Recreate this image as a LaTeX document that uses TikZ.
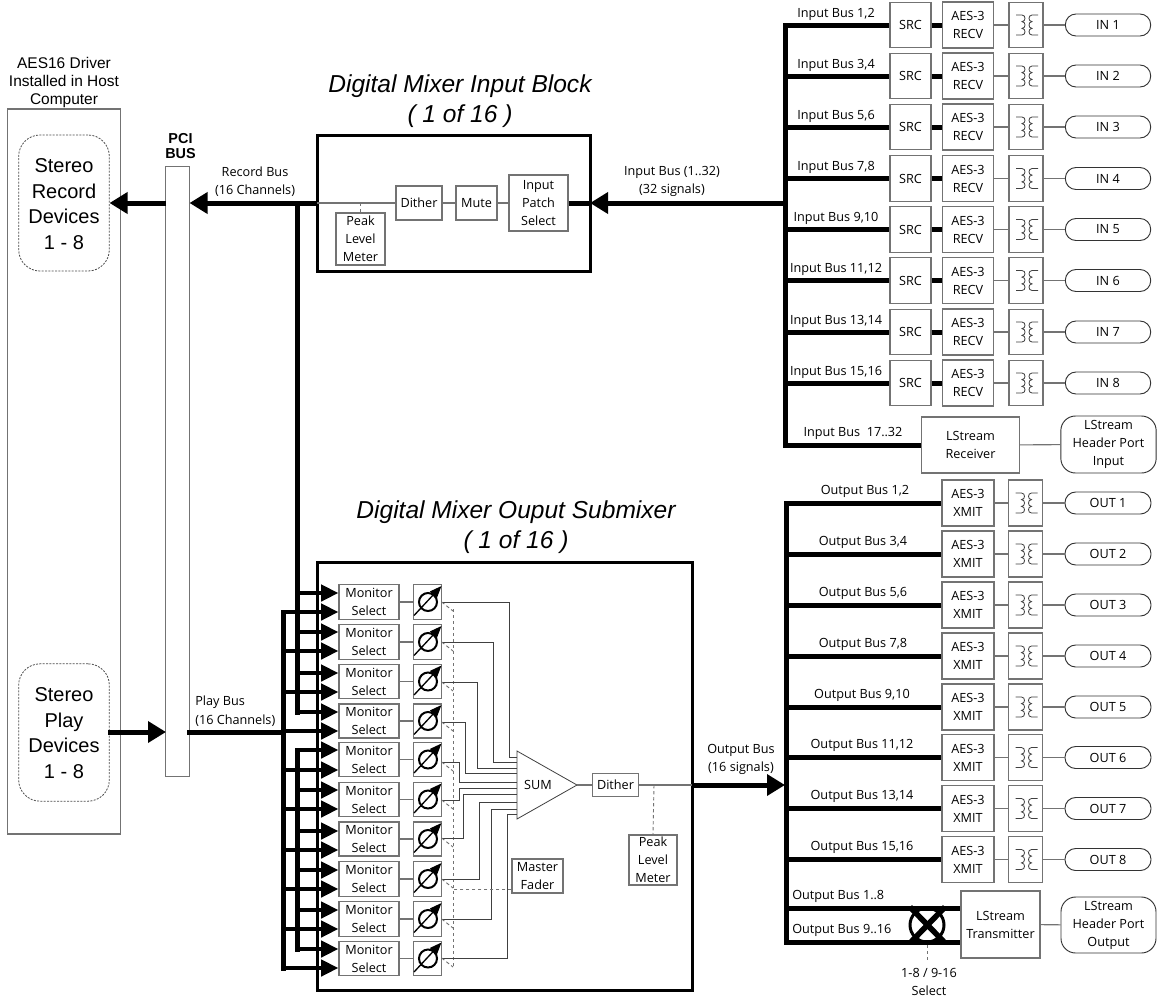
\documentclass[tikz,border=0pt]{standalone}
\usepackage{fontspec}
\setmainfont{Open Sans}
\newfontfamily\arialf{Liberation Sans}
\usetikzlibrary{arrows.meta}
\definecolor{thinc}{gray}{0.45}
\newcommand{\lbl}{\fontsize{9.5pt}{13.5pt}\selectfont}
\tikzset{
  box/.style={draw=thinc,line width=0.8pt,fill=white,inner sep=0pt,align=center,font=\lbl},
  wire/.style={draw=thinc,line width=0.8pt},
  cwire/.style={draw=black!75,line width=0.6pt},
  ctrl/.style={draw=thinc,line width=0.7pt,dash pattern=on 2.5pt off 2pt},
  bus/.style={draw=black,line width=3.75pt},
  bigarrow/.style={bus,-{Triangle[length=13.5pt,width=15.5pt]}},
  smallarrow/.style={bus,line width=3.4pt,-{Triangle[length=13pt,width=12pt]}},
  frame/.style={draw=black,line width=2.25pt},
  txt/.style={inner sep=0pt,align=center,font=\lbl},
  devbox/.style={draw=black!70,line width=0.6pt,dash pattern=on 1.5pt off 1pt,rounded corners=16pt},
  devtxt/.style={inner sep=0pt,align=center,font={\arialf\fontsize{15pt}{19.2pt}\selectfont}},
  title/.style={inner sep=0pt,align=center,font={\arialf\itshape\fontsize{18.4pt}{22.5pt}\selectfont}},
  pill/.style={draw=black!80,line width=0.7pt,fill=white,rounded corners=8pt,inner sep=0pt,align=center,font=\lbl},
  port/.style={draw=black!80,line width=0.7pt,fill=white,rounded corners=11pt,inner sep=0pt,align=center,font=\lbl}
}
\newcommand{\xfmr}[2]{%
  \begin{scope}[shift={(#1,#2)}]
    \draw[cwire] (-10,-10) -- (-4,-10)
      .. controls (0,-10) and (0,-3.4) .. (-4,-3.4)
      .. controls (0,-3.4) and (0,3.4) .. (-4,3.4)
      .. controls (0,3.4) and (0,10) .. (-4,10) -- (-10,10);
    \draw[cwire] (12,-10) -- (6,-10)
      .. controls (2,-10) and (2,-3.4) .. (6,-3.4)
      .. controls (2,-3.4) and (2,3.4) .. (6,3.4)
      .. controls (2,3.4) and (2,10) .. (6,10) -- (12,10);
  \end{scope}}
\begin{document}
\begin{tikzpicture}[x=0.75pt,y=-0.75pt]
\useasboundingbox (0,0) rectangle (1157,997);
\fill[white] (0,0) rectangle (1157,997);

% host box
\node[box,minimum width=84.75pt,minimum height=543.75pt] (host) at (64,471.5) {};
\node[txt,font={\arialf\fontsize{11.6pt}{13.5pt}\selectfont}] (hosttxt) at (64,82) {AES16 Driver\\Installed in Host\\Computer};
\node[devbox,minimum width=68pt,minimum height=102pt,inner sep=0pt] (rec) at (64,203) {};
\node[devtxt] (rectxt) at (64,204) {Stereo\\Record\\Devices\\1 - 8};
\node[devbox,minimum width=68pt,minimum height=103pt,inner sep=0pt] (ply) at (64,732.5) {};
\node[devtxt] (plytxt) at (64,733) {Stereo\\Play\\Devices\\1 - 8};

% PCI
\node[box,minimum width=17.5pt,minimum height=458pt] (pci) at (177.5,471.5) {};
\node[txt,font={\arialf\bfseries\fontsize{10.8pt}{11.6pt}\selectfont}] (pcitxt) at (180.5,146) {PCI\\BUS};
\coordinate (recw) at (109.5,203);
\coordinate (recpci) at (166,203);
\coordinate (recpcie) at (189.5,203);
\coordinate (plyin) at (166,732);
\coordinate (plye) at (108,732);
\coordinate (plyout) at (187,732);
\draw[bigarrow] (recpci) -- (recw);
\draw[bigarrow] (plye) -- (plyin);

% Input block
\node[frame,minimum width=204.75pt,minimum height=102pt,inner sep=0pt] (inblk) at (453.5,203) {};
\node[title] (t1) at (460,101) {Digital Mixer Input Block\\( 1 of 16 )};
\coordinate (inblkw) at (317,203);
\coordinate (inblke) at (590,203);
\coordinate (recv) at (297,203);
\draw[bigarrow] (inblkw) -- (recpcie);
\node[box,minimum width=34.5pt,minimum height=25.5pt] (dith1) at (419,203) {Dither};
\node[box,minimum width=30.75pt,minimum height=25.5pt] (mute) at (476.5,203) {Mute};
\node[box,minimum width=44.25pt,minimum height=42pt] (patch) at (538.5,203) {Input\\Patch\\Select};
\node[box,minimum width=36.75pt,minimum height=39pt] (peak1) at (360.5,239) {Peak\\Level\\Meter};
\coordinate (peak1j) at (360.5,203);
\draw[wire] (inblkw) -- (dith1);
\draw[wire] (dith1) -- (mute);
\draw[wire] (mute) -- (patch);
\draw[ctrl] (peak1j) -- (peak1.north);
\draw[bus] (patch.east) -- (inblke);
\coordinate (inbusr) at (786,203);
\draw[bigarrow] (inbusr) -- (inblke);
\node[txt] (l1) at (255,182) {Record Bus\\(16 Channels)};
\node[txt] (l2) at (672,181.5) {Input Bus (1..32)\\(32 signals)};
\node[txt,anchor=west] (l3a) at (195,702) {Play Bus};
\node[txt,anchor=west] (l3b) at (195,721) {(16 Channels)};

% Output submixer
\node[frame,minimum width=281.25pt,minimum height=321pt,inner sep=0pt] (outblk) at (504.5,776) {};
\node[title] (t2) at (516,527.5) {Digital Mixer Ouput Submixer\\( 1 of 16 )};

% buses into monitor selects
\coordinate (busa) at (297,712);
\coordinate (busb) at (297,750);
\coordinate (busc) at (297,949);
\coordinate (busd) at (283,612);
\coordinate (buse) at (283,968);
\draw[bus,line cap=rect] (recv) -- (busa);
\draw[bus,line cap=rect] (busb) -- (busc);
\draw[bus,line cap=rect] (busd) -- (buse);
\draw[bus] (plyout) -- (283,732);

\draw[ctrl] (453,609) -- (453,968);
\foreach \i/\cy/\hh/\yt/\yb/\yo/\xr/\ys in {
 1/602/34.6/593/612/602/509/757,
 2/642/34.3/632/651/642/493/762,
 3/681.5/34.7/673/692/682/477/768,
 4/721/34/712/731/722/465/773,
 5/759.5/34.4/750/770/762/459/782,
 6/799.5/34.4/790/809/800/459/788,
 7/839/34/831/850/838/463/794,
 8/879/34.7/870/889/879/479/802,
 9/919/34.3/910/929/919/491/809,
 10/958.5/34/949/968/958/507/814}{
  \node[box,minimum width=45pt,minimum height=\hh*0.75pt] (ms\i) at (369,\cy) {Monitor\\Select};
  \node[box,minimum width=21.5pt,minimum height=\hh*0.75pt] (fd\i) at (427.5,\cy) {};
  \draw[wire] (ms\i) -- (fd\i);
  \draw[smallarrow] (297,\yt) -- (ms\i.west |- 0,\yt);
  \draw[smallarrow] (283,\yb) -- (ms\i.west |- 0,\yb);
  \draw[black,line width=1.5pt] (428,\cy) circle[radius=9];
  \draw[black,line width=1pt,-{Triangle[length=9pt,width=7pt]}] (414,\cy+13.5) -- (441.5,\cy-16);
  \coordinate (so\i) at (441.7,\yo);
  \coordinate (si\i) at (517,\ys);
  \draw[cwire] (so\i) -- (\xr,\yo) -- (\xr,\ys) -- (si\i);
  \draw[ctrl] (so\i) -- (453,\yo+9);
}

% sum
\coordinate (sa) at (517,751);
\coordinate (sb) at (517,819);
\coordinate (sumtip) at (577,785);
\draw[cwire,fill=white] (sa) -- (sumtip) -- (sb) -- cycle;
\node[txt] (sumtxt) at (538,785) {SUM};
\node[box,minimum width=34pt,minimum height=17.25pt] (dith2) at (615.5,785) {Dither};
\draw[wire] (sumtip) -- (dith2);
\node[box,minimum width=36pt,minimum height=37.5pt] (peak2) at (653,860) {Peak\\Level\\Meter};
\coordinate (peak2j) at (654,785);
\draw[ctrl] (peak2j) -- (peak2.north);
\node[box,minimum width=38.25pt,minimum height=25.5pt] (mf) at (537.5,876) {Master\\Fader};
\coordinate (mfj) at (453,889);
\draw[ctrl] (mf.west |- mfj) -- (mfj);
\coordinate (ob1) at (692,785);
\coordinate (ob2) at (785,785);
\draw[wire] (dith2) -- (ob1);
\draw[bigarrow] (ob1) -- (ob2);
\node[txt] (l4) at (741,759) {Output Bus\\(16 signals)};

% input rows
\draw[bus,line cap=rect] (785,25) -- (785,445);
\foreach \i/\cy/\nm in {1/25/{1,2},2/76/{3,4},3/127/{5,6},4/178.5/{7,8},5/229.5/{9,10},6/280.5/{11,12},7/332/{13,14},8/383/{15,16}}{
  \node[box,minimum width=30.75pt,minimum height=34pt] (src\i) at (910.5,\cy) {SRC};
  \node[box,minimum width=38.25pt,minimum height=34.5pt] (rx\i) at (968,\cy) {AES-3\\RECV};
  \node[box,minimum width=25.5pt,minimum height=34pt] (tr\i) at (1026,\cy) {};
  \xfmr{1026}{\cy}
  \node[pill,minimum width=64pt,minimum height=16.5pt] (in\i) at (1108,\cy) {IN \i};
  \coordinate (ibs\i) at (785,\cy);
  \draw[bus] (ibs\i) -- (src\i);
  \draw[bus] (src\i) -- (rx\i);
  \draw[wire] (rx\i) -- (tr\i);
  \draw[wire] (tr\i) -- (in\i);
  \node[txt] (il\i) at (836,\cy-11) {Input Bus \nm};
}
\node[box,minimum width=73pt,minimum height=42pt] (lrx) at (970.5,445) {LStream\\Receiver};
\node[port,minimum width=71.5pt,minimum height=42.75pt] (lrxp) at (1108.5,444.5) {LStream\\Header Port\\Input};
\coordinate (ibl) at (785,445);
\draw[bus] (ibl) -- (lrx);
\draw[wire] (lrx) -- (lrxp);
\node[txt] (ill) at (853,433) {Input Bus\ \ 17..32};

% output rows
\draw[bus,line cap=rect] (786.5,503) -- (786.5,942);
\foreach \i/\cy/\nm/\lx in {1/503/{1,2}/865,2/554/{3,4}/863,3/605/{5,6}/863,4/656/{7,8}/863,5/707/{9,10}/862,6/757.5/{11,12}/862,7/808.5/{13,14}/862,8/859.5/{15,16}/862}{
  \node[box,minimum width=39pt,minimum height=34.5pt] (tx\i) at (968,\cy) {AES-3\\XMIT};
  \node[box,minimum width=25.5pt,minimum height=34.5pt] (ot\i) at (1025.5,\cy) {};
  \xfmr{1025.5}{\cy}
  \node[pill,minimum width=64.5pt,minimum height=16.5pt] (out\i) at (1108,\cy) {OUT \i};
  \coordinate (obs\i) at (786.5,\cy);
  \draw[bus] (obs\i) -- (tx\i);
  \draw[wire] (tx\i) -- (ot\i);
  \draw[wire] (ot\i) -- (out\i);
  \node[txt] (ol\i) at (\lx,\cy-12) {Output Bus \nm};
}
% transmitter
\node[box,minimum width=59.25pt,minimum height=50.25pt] (ltx) at (1000.5,924.5) {LStream\\Transmitter};
\node[port,minimum width=71.25pt,minimum height=42pt] (ltxp) at (1108.5,925) {LStream\\Header Port\\Output};
\draw[wire] (ltx) -- (ltxp);
\coordinate (oa) at (786.5,908);
\coordinate (ob) at (786.5,942);
\coordinate (xa) at (910,907);
\coordinate (xb) at (910,943);
\coordinate (xc) at (945,907);
\coordinate (xd) at (945,943);
\draw[bus] (oa) -- (ltx.west |- oa);
\draw[bus] (ob) -- (ltx.west |- ob);
\fill[white] (907,912) rectangle (947,938);
\draw[black,line width=2.25pt] (927,925) circle[radius=17];
\draw[bus,line width=4.2pt] (xa) -- (xd);
\draw[bus,line width=4.2pt] (xb) -- (xc);
\coordinate (selj) at (927,945);
\coordinate (sele) at (927,962);
\draw[ctrl] (selj) -- (sele);
\node[txt] (sel) at (929,982) {1-8 / 9-16\\Select};
\node[txt,anchor=west] (o18) at (792,896) {Output Bus 1..8};
\node[txt,anchor=west] (o916) at (792,930) {Output Bus 9..16};
\end{tikzpicture}
\end{document}
